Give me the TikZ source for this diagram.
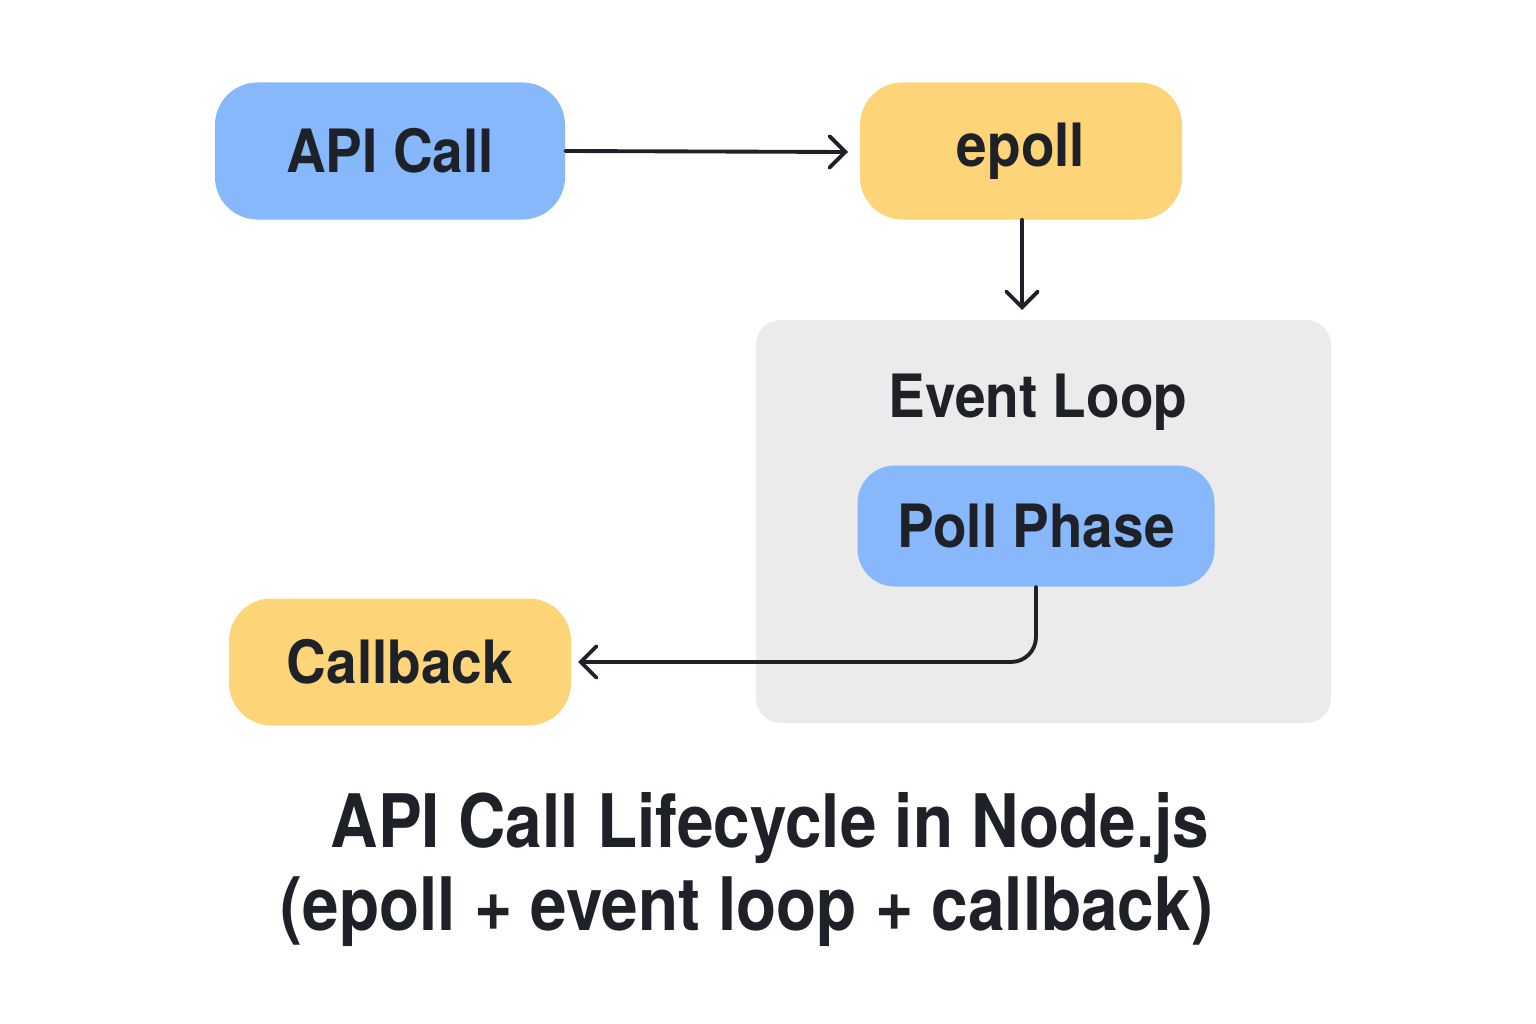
\documentclass[tikz,border=0pt]{standalone}
\usepackage{fontspec}
\usepackage{graphicx}
\setmainfont{TeX Gyre Heros}
\usetikzlibrary{arrows.meta}
\definecolor{boxblue}{HTML}{86B8FB}
\definecolor{boxyellow}{HTML}{FDD477}
\definecolor{loopgray}{HTML}{EBEBEB}
\definecolor{ink}{HTML}{1E2127}
\newcommand\sqz[1]{\scalebox{0.92}[1]{#1}}
\newcommand\sqt[1]{\scalebox{0.89}[1]{#1}}
\begin{document}
\begin{tikzpicture}[x=0.02cm,y=-0.02cm,
  lbl/.style={text=ink, inner sep=0pt, font=\fontsize{34}{40}\selectfont\bfseries},
  box/.style={lbl, rounded corners=0.85cm},
  ttl/.style={text=ink, inner sep=0pt, font=\fontsize{42}{48}\selectfont\bfseries},
  conn/.style={draw=ink, line width=2.2pt, line cap=round, -{Straight Barb[length=9pt,width=18pt,line width=2.2pt, line cap=round]}}
]
\useasboundingbox (0,0) rectangle (1536,1024);
\fill[white] (0,0) rectangle (1536,1024);
\fill[loopgray, rounded corners=0.5cm] (756,320) rectangle (1331,723);
\node[box, fill=boxblue, minimum width=350*0.02cm, minimum height=137*0.02cm] (api) at (390,151) {\sqz{API Call}};
\node[box, fill=boxyellow, minimum width=322*0.02cm, minimum height=137*0.02cm] (epoll) at (1021,151) {\sqz{epoll}};
\node[lbl] (loop) at (1038,402) {\sqz{Event Loop}};
\node[box, rounded corners=0.75cm, fill=boxblue, minimum width=357*0.02cm, minimum height=121*0.02cm] (poll) at (1036,526) {\sqz{Poll Phase}};
\node[box, fill=boxyellow, minimum width=342*0.02cm, minimum height=127*0.02cm] (cb) at (400,662) {\sqz{Callback}};
\coordinate (epollend) at (1022,310);
\coordinate (apiend) at (848,152);
\coordinate (cbend) at (578,662);
\draw[conn] (api.east) -- (apiend);
\draw[conn] (epoll.south -| epollend) -- (epollend);
\draw[conn, rounded corners=0.5cm] (poll.south) -- (poll.south |- cbend) -- (cbend);
\node[ttl] (title1) at (770,828) {\sqt{API Call Lifecycle in Node.js}};
\node[ttl] (title2) at (747,912) {\sqt{(epoll + event loop + callback)}};
\end{tikzpicture}
\end{document}
